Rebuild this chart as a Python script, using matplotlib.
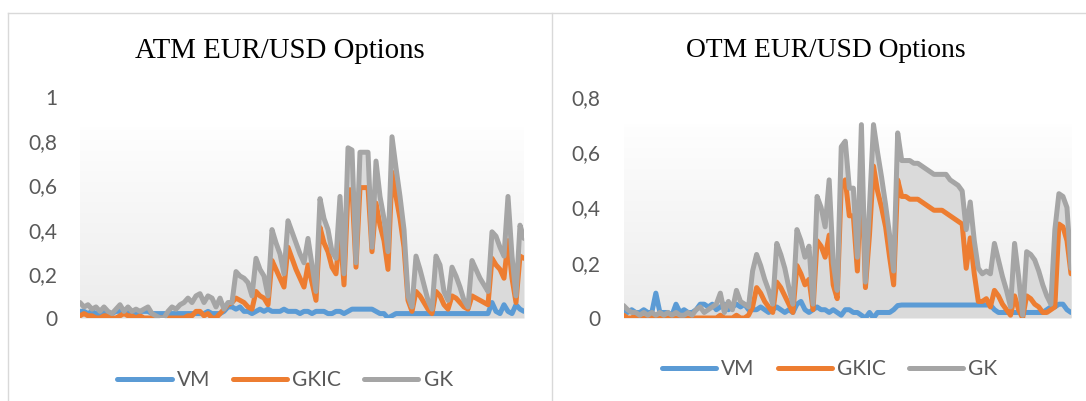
import matplotlib
matplotlib.use("Agg")
import matplotlib.pyplot as plt
from matplotlib.lines import Line2D
import numpy as np

# ---------------- data ----------------
atm_gk = [0.07, 0.05, 0.06, 0.04, 0.05, 0.03, 0.05, 0.03, 0.02, 0.04,
          0.06, 0.03, 0.05, 0.03, 0.04, 0.03, 0.04, 0.05, 0.02, 0.01,
          0.00, 0.00, 0.03, 0.05, 0.04, 0.06, 0.07, 0.09, 0.07, 0.10,
          0.11, 0.07, 0.10, 0.09, 0.05, 0.09, 0.04, 0.07, 0.07, 0.21,
          0.19, 0.18, 0.16, 0.10, 0.27, 0.22, 0.19, 0.10, 0.40, 0.34,
          0.29, 0.20, 0.44, 0.39, 0.34, 0.29, 0.25, 0.36, 0.24, 0.12,
          0.54, 0.45, 0.40, 0.30, 0.27, 0.55, 0.20, 0.77, 0.76, 0.25,
          0.75, 0.75, 0.75, 0.32, 0.71, 0.55, 0.45, 0.30, 0.82, 0.68,
          0.55, 0.40, 0.10, 0.05, 0.28, 0.22, 0.15, 0.08, 0.04, 0.28,
          0.24, 0.12, 0.08, 0.23, 0.19, 0.14, 0.08, 0.05, 0.26, 0.22,
          0.18, 0.15, 0.12, 0.39, 0.37, 0.32, 0.28, 0.55, 0.28, 0.10,
          0.42, 0.36]
atm_gkic = [0.01, 0.02, 0.01, 0.01, 0.00, 0.00, 0.01, 0.01, 0.00, 0.00,
            0.01, 0.02, 0.01, 0.01, 0.00, 0.01, 0.00, 0.00, 0.00, 0.00,
            0.00, 0.00, 0.00, 0.00, 0.00, 0.00, 0.00, 0.01, 0.01, 0.03,
            0.03, 0.01, 0.02, 0.00, 0.00, 0.02, 0.04, 0.06, 0.07, 0.09,
            0.08, 0.07, 0.05, 0.04, 0.12, 0.10, 0.09, 0.06, 0.26, 0.22,
            0.18, 0.14, 0.32, 0.27, 0.22, 0.18, 0.14, 0.24, 0.16, 0.08,
            0.41, 0.34, 0.30, 0.23, 0.20, 0.40, 0.15, 0.58, 0.58, 0.23,
            0.59, 0.59, 0.59, 0.30, 0.52, 0.42, 0.35, 0.22, 0.66, 0.55,
            0.45, 0.32, 0.08, 0.03, 0.12, 0.10, 0.07, 0.04, 0.02, 0.12,
            0.10, 0.06, 0.04, 0.10, 0.09, 0.07, 0.05, 0.04, 0.10, 0.09,
            0.08, 0.07, 0.06, 0.27, 0.24, 0.22, 0.18, 0.35, 0.18, 0.07,
            0.28, 0.27]
atm_vm = [0.03, 0.03, 0.02, 0.03, 0.02, 0.02, 0.03, 0.02, 0.02, 0.03,
          0.03, 0.02, 0.03, 0.02, 0.02, 0.03, 0.03, 0.03, 0.02, 0.02,
          0.02, 0.02, 0.02, 0.02, 0.02, 0.02, 0.02, 0.02, 0.02, 0.02,
          0.02, 0.02, 0.03, 0.02, 0.02, 0.02, 0.03, 0.05, 0.05, 0.04,
          0.05, 0.03, 0.03, 0.02, 0.03, 0.04, 0.03, 0.04, 0.03, 0.03,
          0.03, 0.04, 0.03, 0.03, 0.03, 0.02, 0.03, 0.03, 0.02, 0.03,
          0.03, 0.03, 0.02, 0.02, 0.03, 0.03, 0.02, 0.03, 0.04, 0.04,
          0.04, 0.04, 0.04, 0.04, 0.03, 0.02, 0.02, 0.00, 0.01, 0.02,
          0.02, 0.02, 0.02, 0.02, 0.02, 0.02, 0.02, 0.02, 0.02, 0.02,
          0.02, 0.02, 0.02, 0.02, 0.02, 0.02, 0.02, 0.02, 0.02, 0.02,
          0.02, 0.02, 0.02, 0.07, 0.03, 0.02, 0.06, 0.03, 0.02, 0.06,
          0.04, 0.03]

otm_gk = [0.045, 0.03, 0.02, 0.02, 0.01, 0.02, 0.01, 0.02, 0.01, 0.02,
          0.01, 0.02, 0.01, 0.02, 0.01, 0.01, 0.02, 0.01, 0.03, 0.04,
          0.02, 0.03, 0.04, 0.05, 0.09, 0.02, 0.06, 0.03, 0.10, 0.06,
          0.05, 0.04, 0.17, 0.23, 0.19, 0.14, 0.10, 0.05, 0.27, 0.23,
          0.18, 0.11, 0.05, 0.32, 0.28, 0.22, 0.26, 0.05, 0.44, 0.40,
          0.33, 0.50, 0.20, 0.10, 0.62, 0.64, 0.47, 0.47, 0.22, 0.70,
          0.13, 0.40, 0.70, 0.60, 0.51, 0.41, 0.30, 0.17, 0.67, 0.57,
          0.57, 0.57, 0.56, 0.56, 0.55, 0.54, 0.53, 0.52, 0.52, 0.52,
          0.52, 0.50, 0.49, 0.48, 0.46, 0.32, 0.42, 0.28, 0.18, 0.16,
          0.17, 0.16, 0.27, 0.21, 0.15, 0.10, 0.04, 0.27, 0.15, 0.01,
          0.24, 0.23, 0.21, 0.17, 0.12, 0.08, 0.05, 0.32, 0.45, 0.44,
          0.40, 0.18]
otm_gkic = [0.01, 0.00, 0.00, 0.01, 0.00, 0.00, 0.00, 0.01, 0.00, 0.00,
            0.00, 0.00, 0.00, 0.00, 0.00, 0.00, 0.00, 0.00, 0.00, 0.00,
            0.00, 0.00, 0.00, 0.00, 0.01, 0.00, 0.00, 0.00, 0.01, 0.00,
            0.00, 0.01, 0.04, 0.11, 0.09, 0.06, 0.04, 0.02, 0.13, 0.11,
            0.08, 0.05, 0.02, 0.19, 0.16, 0.12, 0.14, 0.03, 0.28, 0.26,
            0.22, 0.30, 0.12, 0.07, 0.48, 0.50, 0.37, 0.37, 0.17, 0.55,
            0.11, 0.30, 0.55, 0.46, 0.40, 0.33, 0.22, 0.12, 0.50, 0.44,
            0.44, 0.43, 0.43, 0.43, 0.42, 0.41, 0.40, 0.39, 0.39, 0.39,
            0.38, 0.37, 0.36, 0.35, 0.34, 0.18, 0.29, 0.16, 0.06, 0.06,
            0.07, 0.04, 0.10, 0.08, 0.05, 0.03, 0.01, 0.08, 0.03, 0.00,
            0.08, 0.07, 0.05, 0.04, 0.02, 0.02, 0.03, 0.04, 0.34, 0.33,
            0.28, 0.16]
otm_vm = [0.03, 0.02, 0.03, 0.02, 0.02, 0.03, 0.02, 0.02, 0.09, 0.02,
          0.02, 0.02, 0.01, 0.05, 0.02, 0.03, 0.02, 0.02, 0.03, 0.05,
          0.05, 0.04, 0.05, 0.03, 0.04, 0.05, 0.03, 0.04, 0.05, 0.04,
          0.05, 0.03, 0.03, 0.03, 0.04, 0.03, 0.02, 0.03, 0.04, 0.03,
          0.02, 0.03, 0.02, 0.05, 0.06, 0.03, 0.02, 0.03, 0.04, 0.03,
          0.03, 0.02, 0.03, 0.02, 0.01, 0.03, 0.03, 0.02, 0.02, 0.01,
          0.00, 0.02, 0.00, 0.02, 0.02, 0.02, 0.02, 0.03, 0.045, 0.047,
          0.047, 0.047, 0.047, 0.047, 0.047, 0.047, 0.047, 0.047, 0.047, 0.047,
          0.047, 0.047, 0.047, 0.047, 0.047, 0.047, 0.047, 0.047, 0.047, 0.047,
          0.047, 0.047, 0.03, 0.02, 0.02, 0.02, 0.02, 0.02, 0.02, 0.02,
          0.02, 0.02, 0.02, 0.02, 0.02, 0.03, 0.04, 0.04, 0.05, 0.05,
          0.03, 0.02]

series_names = ["VM", "GKIC", "GK"]
titles = ["ATM EUR/USD Options", "OTM EUR/USD Options"]
left_ticks = [0, 0.2, 0.4, 0.6, 0.8, 1.0]
left_ticklabels = ["0", "0,2", "0,4", "0,6", "0,8", "1"]
right_ticks = [0, 0.2, 0.4, 0.6, 0.8]
right_ticklabels = ["0", "0,2", "0,4", "0,6", "0,8"]

# ---------------- styling ----------------
W, H = 1086, 401
DPI = 100
C_VM, C_GKIC, C_GK = "#5b9bd5", "#ed7d31", "#a5a5a5"
FILL = "#dadada"
TICK_COLOR = "#595959"
SANS = ["Lato", "DejaVu Sans"]
SERIF = ["Liberation Serif", "DejaVu Serif"]
LW = 3.6
FS = 15

fig = plt.figure(figsize=(W / DPI, H / DPI), dpi=DPI)
fig.patch.set_facecolor("white")


def px_rect(x0, y_bottom, w, h):
    return [x0 / W, (H - y_bottom) / H, w / W, h / H]


# panel borders
border = "#d9d9d9"
fig.add_artist(Line2D([8 / W, 1.0], [1 - 12.5 / H] * 2, color=border, lw=1.0))
for xb in (8, 552):
    fig.add_artist(Line2D([xb / W] * 2, [0, 1 - 12.5 / H], color=border, lw=1.0))


def panel(rect, vm, gkic, gk, ymax, ticks, ticklabels, grad_top, title, title_x,
          title_size, title_base, leg_x, leg_y):
    ax = fig.add_axes(rect)
    n = len(gk)
    x = np.arange(n)
    # light gradient background block
    grad = np.linspace(0.925, 0.997, 256)[:, None]
    rgb = np.dstack([grad, grad, grad])
    ax.imshow(rgb, extent=[0, n - 1, 0, grad_top], origin="lower",
              aspect="auto", zorder=0, interpolation="bilinear")
    ax.fill_between(x, 0, gk, color=FILL, lw=0, zorder=1)
    kw = dict(solid_capstyle="round", solid_joinstyle="round")
    l1, = ax.plot(x, vm, color=C_VM, lw=LW, zorder=3, **kw)
    l2, = ax.plot(x, gkic, color=C_GKIC, lw=LW, zorder=4, **kw)
    l3, = ax.plot(x, gk, color=C_GK, lw=LW, zorder=5, **kw)
    ax.set_xlim(0, n - 1)
    ax.set_ylim(0, ymax)
    ax.set_yticks(ticks)
    ax.set_yticklabels(ticklabels, fontfamily=SANS, fontsize=FS, color=TICK_COLOR)
    ax.tick_params(axis="y", length=0, pad=16.5)
    ax.set_xticks([])
    for s in ax.spines.values():
        s.set_visible(False)
    ax.patch.set_alpha(0)
    fig.text(title_x / W, 1 - title_base / H, title, ha="center", va="baseline",
             fontfamily=SERIF, fontsize=title_size, color="black")
    leg = fig.legend([l1, l2, l3], series_names, loc="center",
                     bbox_to_anchor=(leg_x / W, 1 - leg_y / H), ncol=3,
                     frameon=False, handlelength=2.6, handletextpad=0.25,
                     columnspacing=1.1, prop={"family": SANS, "size": FS})
    for t in leg.get_texts():
        t.set_color(TICK_COLOR)
    for h in leg.legend_handles:
        h.set_solid_capstyle("round")
    return ax


panel(px_rect(80, 318, 444, 221), atm_vm, atm_gkic, atm_gk, 1.0,
      left_ticks, left_ticklabels, 0.864, titles[0], 280, 20.8, 58, 285, 380)
panel(px_rect(623.6, 318, 447.4, 221), otm_vm, otm_gkic, otm_gk, 0.8,
      right_ticks, right_ticklabels, 0.699, titles[1], 825.5, 19.8, 57, 829.5, 369)

fig.savefig("out.png", dpi=DPI, facecolor="white")
